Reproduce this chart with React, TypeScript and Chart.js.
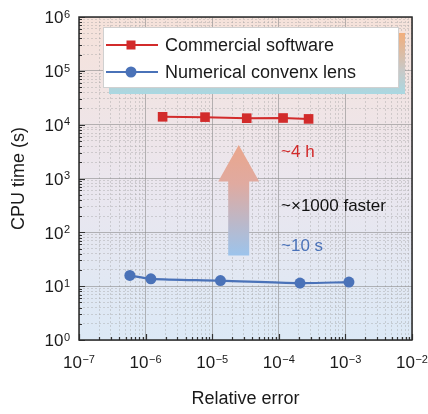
import React, { useEffect, useRef } from "react";
import { Chart, registerables } from "chart.js";

Chart.register(...registerables);

// ---- data ----
const commercialX = [1.8e-6, 7.8e-6, 3.3e-5, 1.16e-4, 2.8e-4];
const commercialY = [14000, 13800, 13200, 13300, 12800];
const numericalX = [5.8e-7, 1.2e-6, 1.33e-5, 2.08e-4, 1.13e-3];
const numericalY = [15.8, 13.7, 12.7, 11.4, 11.9];
const seriesLabels = ["Commercial software", "Numerical convenx lens"];
const tickBase = "10";
const xTickExponents = ["−7", "−6", "−5", "−4", "−3", "−2"];
const yTickExponents = ["0", "1", "2", "3", "4", "5", "6"];
const xMinExp = -7;
const xMaxExp = -2;
const yMinExp = 0;
const yMaxExp = 6;
const annotations = ["~4 h", "~×1000 faster", "~10 s"];

const RED = "#d22b2b";
const BLUE = "#4a72b8";
const FONT = "'Liberation Sans', Arial, sans-serif";

function logTicks(minExp: number, maxExp: number) {
  const t: { value: number; major: boolean }[] = [];
  for (let e = minExp; e <= maxExp; e++) {
    for (let k = 1; k <= 9; k++) {
      if (e === maxExp && k > 1) break;
      t.push({ value: Number((k * Math.pow(10, e)).toPrecision(3)), major: k === 1 });
    }
  }
  return t;
}

const isMajorVal = (v: number) => {
  const l = Math.log10(v);
  return Math.abs(l - Math.round(l)) < 1e-6;
};

function drawPowLabel(ctx: any, exp: string, x: number, baseline: number, align: "center" | "right") {
  ctx.font = `17px ${FONT}`;
  const bw = ctx.measureText(tickBase).width;
  ctx.font = `11px ${FONT}`;
  const ew = ctx.measureText(exp).width;
  const total = bw + ew + 0.5;
  const start = align === "center" ? x - total / 2 : x - total;
  ctx.textAlign = "left";
  ctx.textBaseline = "alphabetic";
  ctx.font = `17px ${FONT}`;
  ctx.fillText(tickBase, start, baseline);
  ctx.font = `11px ${FONT}`;
  ctx.fillText(exp, start + bw + 0.5, baseline - 5.5);
}

const decorPlugin = {
  id: "decor",
  beforeDraw(chart: any) {
    const { ctx, chartArea: a } = chart;
    const g = ctx.createLinearGradient(0, a.top, 0, a.bottom);
    g.addColorStop(0, "#f6e2da");
    g.addColorStop(0.5, "#ebe6ee");
    g.addColorStop(1, "#dce9f6");
    ctx.save();
    ctx.fillStyle = g;
    ctx.fillRect(a.left, a.top, a.right - a.left, a.bottom - a.top);
    ctx.restore();
  },
  beforeDatasetsDraw(chart: any) {
    const { ctx, scales } = chart;
    const xs = scales.x;
    const ys = scales.y;
    // arrow
    const cx = xs.getPixelForValue(2.5e-5);
    const tipY = ys.getPixelForValue(4200);
    const baseY = ys.getPixelForValue(880);
    const botY = ys.getPixelForValue(37);
    const hw = 20.5;
    const sw = 10.5;
    const g = ctx.createLinearGradient(0, tipY, 0, botY);
    g.addColorStop(0, "#eaa68c");
    g.addColorStop(0.35, "#e0aaa0");
    g.addColorStop(1, "#9cc4ec");
    ctx.save();
    ctx.fillStyle = g;
    ctx.beginPath();
    ctx.moveTo(cx, tipY);
    ctx.lineTo(cx + hw, baseY);
    ctx.lineTo(cx + sw, baseY);
    ctx.lineTo(cx + sw, botY);
    ctx.lineTo(cx - sw, botY);
    ctx.lineTo(cx - sw, baseY);
    ctx.lineTo(cx - hw, baseY);
    ctx.closePath();
    ctx.fill();
    // texts
    const tx = xs.getPixelForValue(1.08e-4);
    ctx.font = `17px ${FONT}`;
    ctx.textBaseline = "middle";
    ctx.textAlign = "left";
    ctx.fillStyle = RED;
    ctx.fillText(annotations[0], tx, ys.getPixelForValue(3100));
    ctx.fillStyle = "#111";
    ctx.fillText(annotations[1], tx, ys.getPixelForValue(300));
    ctx.fillStyle = BLUE;
    ctx.fillText(annotations[2], tx, ys.getPixelForValue(54));
    ctx.restore();
  },
  afterDraw(chart: any) {
    const { ctx, chartArea: a, scales } = chart;
    const xs = scales.x;
    const ys = scales.y;
    ctx.save();
    // inward ticks
    ctx.strokeStyle = "#333";
    ctx.lineWidth = 1.2;
    ctx.beginPath();
    for (const t of xs.ticks) {
      const px = Math.round(xs.getPixelForValue(t.value)) + 0.5;
      const len = isMajorVal(t.value) ? 6 : 3;
      ctx.moveTo(px, a.bottom);
      ctx.lineTo(px, a.bottom - len);
    }
    for (const t of ys.ticks) {
      const py = Math.round(ys.getPixelForValue(t.value)) + 0.5;
      const len = isMajorVal(t.value) ? 6 : 3;
      ctx.moveTo(a.left, py);
      ctx.lineTo(a.left + len, py);
    }
    ctx.stroke();
    // frame
    ctx.strokeStyle = "#2a2a2a";
    ctx.lineWidth = 1.5;
    ctx.strokeRect(a.left, a.top, a.right - a.left, a.bottom - a.top);

    // tick labels
    ctx.fillStyle = "#1a1a1a";
    for (const t of xs.ticks) {
      if (!isMajorVal(t.value)) continue;
      const e = Math.round(Math.log10(t.value)) - xMinExp;
      drawPowLabel(ctx, xTickExponents[e], xs.getPixelForValue(t.value), a.bottom + 28, "center");
    }
    for (const t of ys.ticks) {
      if (!isMajorVal(t.value)) continue;
      const e = Math.round(Math.log10(t.value)) - yMinExp;
      drawPowLabel(ctx, yTickExponents[e], a.left - 9, ys.getPixelForValue(t.value) + 6.3, "right");
    }

    // legend
    const lx = 103, ly = 27, lw = 296, lh = 61;
    const sg = ctx.createLinearGradient(0, ly + 6, 0, ly + lh + 6);
    sg.addColorStop(0, "#f2ae7c");
    sg.addColorStop(0.6, "#c9c8c6");
    sg.addColorStop(1, "#a9d8e2");
    ctx.fillStyle = sg;
    ctx.fillRect(lx + 6, ly + 6, lw, lh);
    ctx.fillStyle = "#ffffff";
    ctx.fillRect(lx, ly, lw, lh);
    ctx.strokeStyle = "#d0d0d0";
    ctx.lineWidth = 1;
    ctx.strokeRect(lx + 0.5, ly + 0.5, lw - 1, lh - 1);
    const rows = [
      { y: 45, color: RED, shape: "rect" },
      { y: 72, color: BLUE, shape: "circle" },
    ];
    rows.forEach((r, i) => {
      ctx.strokeStyle = r.color;
      ctx.lineWidth = 2;
      ctx.beginPath();
      ctx.moveTo(106, r.y);
      ctx.lineTo(158, r.y);
      ctx.stroke();
      ctx.fillStyle = r.color;
      if (r.shape === "rect") {
        ctx.fillRect(131 - 4.5, r.y - 4.5, 9, 9);
      } else {
        ctx.beginPath();
        ctx.arc(131, r.y, 5.5, 0, Math.PI * 2);
        ctx.fill();
      }
      ctx.fillStyle = "#1a1a1a";
      ctx.font = `18px ${FONT}`;
      ctx.textAlign = "left";
      ctx.textBaseline = "middle";
      ctx.fillText(seriesLabels[i], 165, r.y + 1);
    });
    ctx.restore();
  },
};

const gridColor = (c: any) =>
  c.tick && isMajorVal(c.tick.value) ? "rgba(140,140,140,0.6)" : "rgba(160,160,160,0.4)";
const gridDash = (c: any) => (c.tick && isMajorVal(c.tick.value) ? [] : [2, 2]);

export default function App() {
  const ref = useRef<HTMLCanvasElement | null>(null);
  useEffect(() => {
    if (!ref.current) return;
    const chart = new Chart(ref.current, {
      type: "line",
      data: {
        datasets: [
          {
            label: seriesLabels[0],
            data: commercialX.map((x, i) => ({ x, y: commercialY[i] })),
            borderColor: RED,
            backgroundColor: RED,
            borderWidth: 2,
            pointStyle: "rect",
            pointRadius: 6.8,
            pointHoverRadius: 6.8,
            pointBorderWidth: 0,
            tension: 0,
          },
          {
            label: seriesLabels[1],
            data: numericalX.map((x, i) => ({ x, y: numericalY[i] })),
            borderColor: BLUE,
            backgroundColor: BLUE,
            borderWidth: 2.2,
            pointStyle: "circle",
            pointRadius: 5.5,
            pointHoverRadius: 5.5,
            pointBorderWidth: 0,
            tension: 0.3,
          },
        ],
      },
      options: {
        animation: false,
        responsive: false,
        events: [],
        layout: { padding: { top: 17, right: 16, left: 0, bottom: 0 } },
        plugins: { legend: { display: false }, tooltip: { enabled: false } },
        scales: {
          x: {
            type: "logarithmic",
            min: Math.pow(10, xMinExp),
            max: Math.pow(10, xMaxExp),
            afterBuildTicks: (s: any) => {
              s.ticks = logTicks(xMinExp, xMaxExp);
            },
            afterFit: (s: any) => {
              s.height = 74;
            },
            ticks: { display: false, autoSkip: false },
            grid: { drawTicks: false, color: gridColor, lineWidth: 1 },
            border: { display: false, dash: gridDash },
            title: {
              display: true,
              text: "Relative error",
              color: "#1a1a1a",
              font: { family: FONT, size: 18 },
              padding: { top: 0, bottom: 4 },
            },
          },
          y: {
            type: "logarithmic",
            min: Math.pow(10, yMinExp),
            max: Math.pow(10, yMaxExp),
            afterBuildTicks: (s: any) => {
              s.ticks = logTicks(yMinExp, yMaxExp);
            },
            afterFit: (s: any) => {
              s.width = 79;
            },
            ticks: { display: false, autoSkip: false },
            grid: { drawTicks: false, color: gridColor, lineWidth: 1 },
            border: { display: false, dash: gridDash },
            title: {
              display: true,
              text: "CPU time (s)",
              color: "#1a1a1a",
              font: { family: FONT, size: 18 },
              padding: { top: 8, bottom: 0 },
            },
          },
        },
      },
      plugins: [decorPlugin],
    } as any);
    return () => chart.destroy();
  }, []);
  return (
    <div style={{ position: "absolute", left: 0, top: 0, width: 428, height: 414, background: "#fff" }}>
      <canvas ref={ref} width={428} height={414} style={{ display: "block" }} />
    </div>
  );
}
